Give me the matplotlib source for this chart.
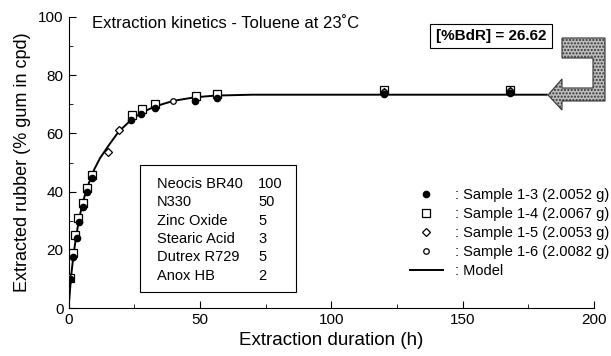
import matplotlib
matplotlib.use("Agg")
import matplotlib.pyplot as plt
from matplotlib.patches import Polygon, Rectangle
from matplotlib.lines import Line2D

plt.rcParams['font.family'] = ['Liberation Sans', 'DejaVu Sans']

# ---- data ----
t_s13 = [0.6, 1.8, 3.1, 4.1, 5.6, 7.1, 8.8, 23.6, 27.6, 32.9, 48.1, 56.7, 120, 168]
y_s13 = [10.0, 17.4, 24.0, 29.7, 34.8, 40.0, 44.6, 64.6, 66.7, 68.6, 71.1, 72.1, 73.6, 73.8]

t_s14 = [0.6, 1.6, 2.5, 3.7, 5.4, 7.1, 8.8, 24.0, 27.8, 32.9, 48.5, 56.7, 120, 168]
y_s14 = [10.2, 18.8, 25.0, 30.8, 36.0, 41.1, 45.7, 66.3, 68.3, 70.1, 72.8, 73.5, 74.9, 74.9]

t_s15 = [0.5, 15.2, 19.2, 120, 168]
y_s15 = [10.0, 53.5, 61.0, 74.2, 74.5]

t_s16 = [0.5, 39.8, 120, 168]
y_s16 = [10.0, 71.3, 74.2, 74.5]

t_model = [0.3, 1, 2, 3, 4, 5, 6, 7, 8, 9, 10, 12, 15, 19, 24, 28, 33, 40, 48, 56, 70, 182]
y_model = [3.0, 11.0, 19.0, 25.0, 30.5, 34.5, 38.0, 41.0, 43.5, 46.0, 48.0, 51.5, 55.5,
           60.5, 64.8, 67.2, 69.3, 71.2, 72.4, 73.0, 73.3, 73.3]

labels = [": Sample 1-3 (2.0052 g)", ": Sample 1-4 (2.0067 g)",
          ": Sample 1-5 (2.0053 g)", ": Sample 1-6 (2.0082 g)", ": Model"]

comp_names = ["Neocis BR40", "N330", "Zinc Oxide", "Stearic Acid", "Dutrex R729", "Anox HB"]
comp_values = ["100", "50", "5", "3", "5", "2"]

title_text = "Extraction kinetics - Toluene at 23˚C"
bdr_text = "[%BdR] = 26.62"

W, H = 611, 356
fig = plt.figure(figsize=(W / 100, H / 100), dpi=100)

def fx(x):
    return x / W

def fy(y):
    return 1 - y / H

ax_l, ax_r, ax_t, ax_b = 68.5, 594, 17, 308
ax = fig.add_axes([fx(ax_l), fy(ax_b), fx(ax_r - ax_l), (ax_b - ax_t) / H])

ax.plot(t_model, y_model, color='black', lw=1.4, zorder=2)
ax.plot(t_s14, y_s14, ls='none', marker='s', ms=6, mfc='white', mec='black', mew=0.9, zorder=3)
ax.plot(t_s15, y_s15, ls='none', marker='D', ms=4.5, mfc='white', mec='black', mew=0.9, zorder=4)
ax.plot(t_s16, y_s16, ls='none', marker='o', ms=4, mfc='white', mec='black', mew=0.9, zorder=4)
ax.plot(t_s13, y_s13, ls='none', marker='o', ms=4.5, mfc='black', mec='black', zorder=5)

ax.set_xlim(0, 200)
ax.set_ylim(0, 100)
ax.set_xticks([0, 50, 100, 150, 200])
ax.set_xticks([25, 75, 125, 175], minor=True)
ax.set_yticks([0, 20, 40, 60, 80, 100])
ax.set_yticks([10, 30, 50, 70, 90], minor=True)
ax.tick_params(which='both', direction='in', labelsize=11)
ax.tick_params(which='major', length=5)
ax.tick_params(which='minor', length=3)
for s in ['top', 'right']:
    ax.spines[s].set_visible(False)
ax.set_xlabel("Extraction duration (h)", fontsize=13.5, labelpad=4)
ax.set_ylabel("Extracted rubber (% gum in cpd)", fontsize=13, labelpad=5)

# legend
handles = [
    Line2D([], [], ls='none', marker='o', ms=4.5, mfc='black', mec='black'),
    Line2D([], [], ls='none', marker='s', ms=6, mfc='white', mec='black', mew=0.9),
    Line2D([], [], ls='none', marker='D', ms=4.5, mfc='white', mec='black', mew=0.9),
    Line2D([], [], ls='none', marker='o', ms=4, mfc='white', mec='black', mew=0.9),
    Line2D([], [], color='black', lw=1.4),
]
ax.legend(handles, labels, loc='upper left', bbox_to_anchor=(fx(410), fy(188)),
          bbox_transform=fig.transFigure, frameon=False, borderpad=0, borderaxespad=0,
          fontsize=10.5, handlelength=2.26, handletextpad=0.8, labelspacing=0.35)

fig.text(fx(92), fy(24), title_text, fontsize=12, va='center', ha='left')

# composition box
fig.add_artist(Rectangle((fx(140), fy(292)), fx(296 - 140), (292 - 165) / H,
                         transform=fig.transFigure, fill=False, ec='black', lw=0.8))
y0, dy = 184, 18.3
for i, (n, v) in enumerate(zip(comp_names, comp_values)):
    fig.text(fx(157), fy(y0 + i * dy), n, fontsize=10.5, va='center', ha='left')
    fig.text(fx(258), fy(y0 + i * dy), v, fontsize=10.5, va='center', ha='left')

# BdR box
fig.text(fx(491), fy(36), bdr_text, fontsize=11, fontweight='bold', ha='center', va='center',
         bbox=dict(boxstyle='square,pad=0.35', fc='white', ec='black', lw=0.8))

# bent arrow
pts = [(562, 38), (605, 38), (605, 101), (562, 101), (562, 110), (548, 95), (562, 79),
       (562, 88), (593, 88), (593, 58), (562, 58)]
poly = Polygon([(fx(x), fy(y)) for x, y in pts], closed=True, transform=fig.transFigure,
               fc='#bdbdbd', ec='#333333', lw=0.8, hatch='.....')
fig.add_artist(poly)

fig.savefig("out.png", dpi=100)
